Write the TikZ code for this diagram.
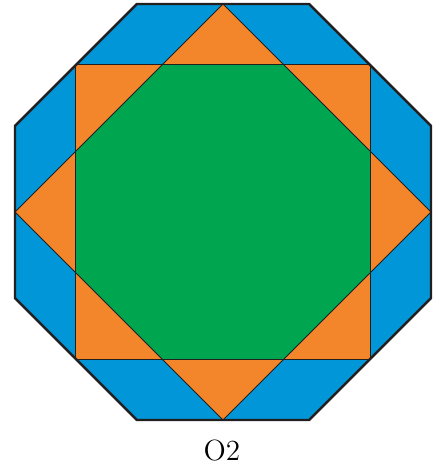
\documentclass[tikz,border=0pt]{standalone}
\usepackage{tikz}

\definecolor{octblue}{HTML}{0096D7}
\definecolor{octorange}{HTML}{F3852A}
\definecolor{octgreen}{HTML}{00A54F}
\definecolor{octline}{HTML}{231F20}

\begin{document}
\begin{tikzpicture}[x=0.5pt, y=0.5pt]

    \useasboundingbox (0,0) rectangle (436,473);

    \begin{scope}[shift={(223,261)}]

    \coordinate (top)    at (0,208);     % tip of the diamond
    \coordinate (right)  at (208,0);
    \coordinate (bottom) at (0,-208);
    \coordinate (left)   at (-208,0);
    \coordinate (sqa)    at (-147.08,-147.08);  % corners of the square
    \coordinate (sqb)    at (147.08,147.08);

    % Outer octagon
    \fill[octblue] (22.5:225.13) \foreach \t in {67.5,112.5,...,337.5} {-- (\t:225.13)} -- cycle;

    % Square and diamond
    \fill[octorange] (sqa) rectangle (sqb);
    \fill[octorange] (top) -- (right) -- (bottom) -- (left) -- cycle;

    % Inner octagon
    \fill[octgreen] (22.5:159.2) \foreach \t in {67.5,112.5,...,337.5} {-- (\t:159.2)} -- cycle;

    \draw[octline, line width=0.5pt] (sqa) rectangle (sqb);
    \draw[octline, line width=0.5pt] (top) -- (right) -- (bottom) -- (left) -- cycle;
    \draw[octline, line width=1.2pt, line join=miter]
        (22.5:225.13) \foreach \t in {67.5,112.5,...,337.5} {-- (\t:225.13)} -- cycle;

    \end{scope}

    \node (label) at (222,22) {\fontsize{14.6}{16}\selectfont O2};

\end{tikzpicture}
\end{document}
